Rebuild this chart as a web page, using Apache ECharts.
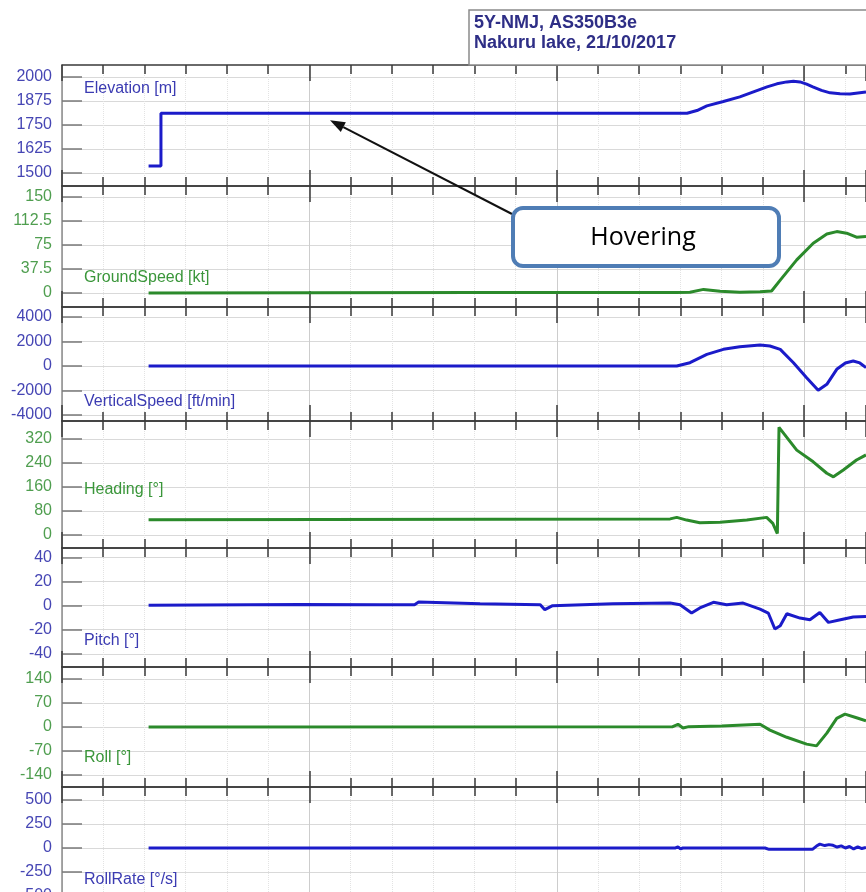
<!DOCTYPE html>
<html>
<head>
<meta charset="utf-8">
<title>5Y-NMJ, AS350B3e – Nakuru lake, 21/10/2017</title>
<script src="https://cdn.jsdelivr.net/npm/echarts@6/dist/echarts.min.js"></script>
<style>
  html, body { margin: 0; padding: 0; background: #ffffff; }
  #chart { width: 866px; height: 892px; }
</style>
</head>
<body>
<div id="chart"></div>
<script>
// ---- Recorded flight parameters, as [time s, value] samples ----
const elevation = [
  [21, 1536], [24, 1536], [24, 1811], [151.6, 1811], [154, 1825], [156.4, 1849],
  [160.4, 1872], [164.4, 1896], [167.7, 1922], [171, 1948], [173.4, 1964],
  [175.8, 1974], [177.4, 1977], [179, 1974], [180.6, 1962], [182.1, 1948],
  [184.2, 1930], [186.3, 1917], [188.7, 1912], [191.1, 1911], [195, 1922]
];
const groundSpeed = [
  [21, 0], [100, 0.5], [149, 0.5], [152.3, 1], [155.6, 5.5], [159.6, 2.5],
  [164.4, 1], [169.3, 2], [172.1, 3], [174.2, 20], [178.2, 51.6], [182.2, 77.6],
  [185.5, 92], [187.9, 95.8], [190.3, 93.3], [192.7, 87], [195, 88]
];
const verticalSpeed = [
  [21, 0], [149.1, 0], [152.3, 270], [156.4, 950], [160.4, 1360], [164.4, 1575],
  [169.3, 1710], [171.7, 1630], [174.2, 1360], [177.4, 270], [180.6, -955],
  [183.4, -1985], [185.5, -1495], [187.9, -270], [190, 250], [191.9, 410],
  [193.5, 250], [195, -135]
];
const heading = [
  [21, 51], [147.5, 54], [149.1, 59], [151.5, 50], [154.7, 41], [159.6, 43],
  [166.1, 50], [170.9, 59], [172.4, 39], [173.5, 5], [173.9, 359], [178.2, 283],
  [182.2, 244], [185.5, 206], [187.1, 194], [189.5, 217], [192.7, 250], [195, 267]
];
const pitch = [
  [21, 0.3], [57.7, 1], [77, 0.8], [85.5, 0.8], [86.5, 3], [101.4, 1.7],
  [116, 0.8], [117.1, -3.3], [119, 0], [133.6, 1.7], [147.5, 2.2], [149.9, 0.8],
  [152.7, -6.1], [154.7, -1.9], [158, 2.8], [161.2, 0.8], [165.2, 2.2],
  [169.3, -2.8], [171.3, -6.1], [172.9, -19.4], [174.2, -16.7], [175.8, -6.7],
  [179, -10.3], [181.4, -11.7], [183.8, -5.6], [185.9, -13.9], [188.8, -11.7],
  [191.9, -9.4], [195, -8.9]
];
const roll = [
  [21, 0], [148, 0.5], [149.4, 8], [150.6, -3], [152, 1], [160, 3], [169.3, 8],
  [171.7, -9], [175.8, -30], [180.6, -50], [183, -55], [185.5, -18], [187.9, 25],
  [189.9, 37.5], [192.7, 27], [195, 18]
];
const rollRate = [
  [21, 0], [148.8, 0], [149.4, 12], [150, -10], [150.6, 0], [170.5, 0],
  [171.5, -14], [182, -14], [183, 20], [183.8, 40], [185, 25], [186, 35],
  [187, 28], [188, 10], [189, 22], [190, 0], [191, 15], [192, -10], [193, 12],
  [194, -6], [195, 5]
];

// ---- Tick labels of each panel's vertical scale ----
const elevationTicks = [1500, 1625, 1750, 1875, 2000];
const groundSpeedTicks = [0, 37.5, 75, 112.5, 150];
const verticalSpeedTicks = [-4000, -2000, 0, 2000, 4000];
const headingTicks = [0, 80, 160, 240, 320];
const pitchTicks = [-40, -20, 0, 20, 40];
const rollTicks = [-140, -70, 0, 70, 140];
const rollRateTicks = [-500, -250, 0, 250, 500];

const panelNames = ['Elevation [m]', 'GroundSpeed [kt]', 'VerticalSpeed [ft/min]',
  'Heading [°]', 'Pitch [°]', 'Roll [°]', 'RollRate [°/s]'];
const titleLines = ['5Y-NMJ, AS350B3e', 'Nakuru lake, 21/10/2017'];
const calloutText = 'Hovering';
const calloutAnchor = [65, 1811];   // time / elevation the callout arrow points at

// ---- Styling ----
const BLUE = { line: '#1b1bc9', label: '#4646b4', name: '#3b3bb2' };
const GREEN = { line: '#2b8a2b', label: '#4f9e4f', name: '#3a963a' };
const TIME_MAX = 195;
const PLOT_LEFT = 62;

const panels = [
  { data: elevation,     ticks: elevationTicks,     min: 1432,  max: 2062, top: 65,  height: 121, nameY: 24, c: BLUE },
  { data: groundSpeed,   ticks: groundSpeedTicks,   min: -22,   max: 167,  top: 186, height: 121, nameY: 92, c: GREEN },
  { data: verticalSpeed, ticks: verticalSpeedTicks, min: -4490, max: 4816, top: 307, height: 114, nameY: 95, c: BLUE },
  { data: heading,       ticks: headingTicks,       min: -43,   max: 380,  top: 421, height: 127, nameY: 69, c: GREEN },
  { data: pitch,         ticks: pitchTicks,         min: -51,   max: 48,   top: 548, height: 119, nameY: 93, c: BLUE },
  { data: roll,          ticks: rollTicks,          min: -175,  max: 175,  top: 667, height: 120, nameY: 91, c: GREEN },
  { data: rollRate,      ticks: rollRateTicks,      min: -625,  max: 635,  top: 787, height: 121, nameY: 93, c: BLUE }
];

const FONT = '"Liberation Sans", Arial, sans-serif';
const grids = [], xAxes = [], yAxes = [], series = [], graphics = [];

panels.forEach((p, i) => {
  grids.push({ left: PLOT_LEFT, right: 0, top: p.top, height: p.height,
               containLabel: false, outerBoundsMode: 'none' });

  // time axis drawn on both edges of every panel so the ticks cross each separator
  const timeAxis = {
    type: 'value', gridIndex: i, min: 0, max: TIME_MAX, interval: 60,
    axisLabel: { show: false },
    axisLine: { show: true, onZero: false, lineStyle: { color: '#3a3a3a', width: 1.5 } },
    axisTick: { show: true, inside: true, length: 16, lineStyle: { color: '#3a3a3a', width: 1.5 } },
    minorTick: { show: true, splitNumber: 6, length: 9, lineStyle: { color: '#3a3a3a', width: 1.5 } }
  };
  xAxes.push(Object.assign({}, timeAxis, {
    position: 'bottom',
    splitLine: { show: true, lineStyle: { color: '#cdcdcd', width: 1 } },
    minorSplitLine: { show: true, lineStyle: { color: '#e3e3e3', width: 1, type: 'dotted' } }
  }));
  xAxes.push(Object.assign({}, timeAxis, { position: 'top', splitLine: { show: false } }));

  yAxes.push({
    type: 'value', gridIndex: i, min: p.min, max: p.max, position: 'left',
    axisLine: { show: true, onZero: false, lineStyle: { color: '#8c8c8c', width: 1.5 } },
    axisTick: { show: true, inside: true, length: 20, customValues: p.ticks,
                lineStyle: { color: '#7a7a7a', width: 1.5 } },
    axisLabel: { customValues: p.ticks, color: p.c.label, fontSize: 16, fontFamily: FONT,
                 margin: 10, formatter: v => String(v) },
    splitLine: { show: true, lineStyle: { color: '#d9d9d9', width: 1 } }
  });

  series.push({
    type: 'line', name: panelNames[i], xAxisIndex: 2 * i, yAxisIndex: i,
    data: p.data, showSymbol: false, symbol: 'none',
    lineStyle: { color: p.c.line, width: 3 }, itemStyle: { color: p.c.line }, z: 5
  });

  graphics.push({
    type: 'text', x: 84, y: p.top + p.nameY, z: 20,
    style: { text: panelNames[i], fill: p.c.name, font: '16px ' + FONT,
             textAlign: 'left', textVerticalAlign: 'middle', verticalAlign: 'middle' }
  });
});

// title box above the first panel
graphics.push({
  type: 'rect', z: 20,
  shape: { x: 469, y: 10, width: 420, height: 55 },
  style: { fill: '#ffffff', stroke: '#8a8a8a', lineWidth: 1.5 }
});
titleLines.forEach((t, k) => {
  graphics.push({
    type: 'text', x: 474, y: 23 + k * 20, z: 21,
    style: { text: t, fill: '#2e2e86', font: 'bold 18px ' + FONT,
             textAlign: 'left', textVerticalAlign: 'middle', verticalAlign: 'middle' }
  });
});

// "Hovering" callout box
const BOX = { x: 513, y: 208, w: 266, h: 58 };
graphics.push({
  type: 'rect', z: 30,
  shape: { x: BOX.x, y: BOX.y, width: BOX.w, height: BOX.h, r: 10 },
  style: { fill: '#ffffff', stroke: '#4f7db5', lineWidth: 4 }
});
graphics.push({
  type: 'text', x: BOX.x + BOX.w / 2 - 3, y: BOX.y + BOX.h / 2 + 1, z: 31,
  style: { text: calloutText, fill: '#000000', font: '25px "Open Sans", sans-serif',
           textAlign: 'center', textVerticalAlign: 'middle', verticalAlign: 'middle' }
});

const chart = echarts.init(document.getElementById('chart'), null, { renderer: 'canvas' });
chart.setOption({
  animation: false,
  backgroundColor: '#ffffff',
  grid: grids, xAxis: xAxes, yAxis: yAxes, series: series,
  graphic: { elements: graphics }
});

// arrow from the callout to the hovering segment of the elevation trace
const p = chart.convertToPixel({ xAxisIndex: 0, yAxisIndex: 0 }, calloutAnchor);
const tip = [p[0], p[1] + 7];
const tail = [BOX.x - 1, BOX.y + 6];
const dx = tail[0] - tip[0], dy = tail[1] - tip[1];
const len = Math.hypot(dx, dy), ux = dx / len, uy = dy / len;
const headL = 15, headW = 5.5;
const base = [tip[0] + ux * headL, tip[1] + uy * headL];
graphics.push({
  type: 'line', z: 25,
  shape: { x1: base[0], y1: base[1], x2: tail[0], y2: tail[1] },
  style: { stroke: '#111111', lineWidth: 2 }
});
graphics.push({
  type: 'polygon', z: 25,
  shape: { points: [tip, [base[0] - uy * headW, base[1] + ux * headW], [base[0] + uy * headW, base[1] - ux * headW]] },
  style: { fill: '#111111' }
});
chart.setOption({ graphic: { elements: graphics } }, { replaceMerge: ['graphic'] });
</script>
</body>
</html>
